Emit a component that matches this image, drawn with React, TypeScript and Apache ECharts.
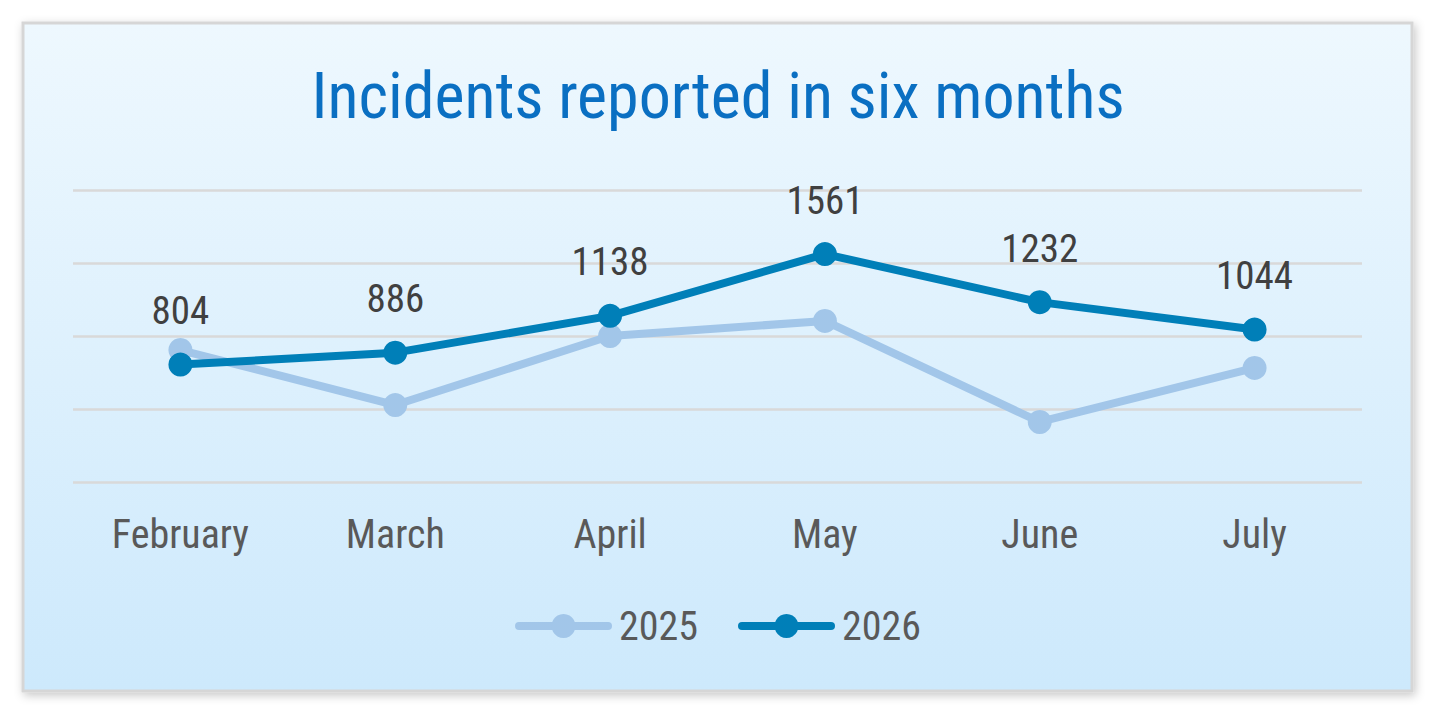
import React, { useRef, useEffect } from 'react';
import * as echarts from 'echarts';

const months = ['February', 'March', 'April', 'May', 'June', 'July'];
const incidents2025 = [904, 527, 1000, 1103, 411, 781];
const incidents2026 = [804, 886, 1138, 1561, 1232, 1044];
const yTicks = [0, 500, 1000, 1500, 2000];

const narrow = "'Roboto Condensed', 'Liberation Sans Narrow', Roboto, sans-serif";

const App = () => {
  const chartRef = useRef(null);

  useEffect(() => {
    const myChart = echarts.init(chartRef.current, null, { renderer: 'svg' });

    const option = {
      animation: false,
      graphic: [
        {
          type: 'rect',
          z: -10,
          silent: true,
          shape: { x: 23, y: 23, width: 1389, height: 668 },
          style: {
            fill: new echarts.graphic.LinearGradient(0, 0, 0, 1, [
              { offset: 0, color: '#eef8fe' },
              { offset: 1, color: '#cde9fc' },
            ]),
            stroke: '#d6d6d6',
            lineWidth: 3,
            shadowBlur: 10,
            shadowColor: 'rgba(0,0,0,0.22)',
            shadowOffsetX: 2,
            shadowOffsetY: 3,
          },
        },
      ],
      title: {
        text: 'Incidents reported in six months',
        left: 'center',
        top: 59,
        textStyle: {
          fontFamily: narrow,
          fontSize: 64,
          fontWeight: 'normal',
          color: '#0a6fc2',
        },
      },
      legend: {
        bottom: 64,
        left: 'center',
        itemWidth: 89,
        itemHeight: 30,
        itemGap: 40,
        lineStyle: { width: 8, cap: 'round' },
        textStyle: { fontFamily: narrow, fontSize: 40, color: '#595959', padding: [0, 0, 0, 6] },
        data: ['2025', '2026'],
      },
      grid: { left: 73, right: 74, top: 190, bottom: 233 },
      xAxis: {
        type: 'category',
        data: months,
        axisLine: { show: false },
        axisTick: { show: false },
        axisLabel: { margin: 32, fontFamily: narrow, fontSize: 40, color: '#595959' },
      },
      yAxis: {
        type: 'value',
        min: yTicks[0],
        max: yTicks[yTicks.length - 1],
        interval: yTicks[1] - yTicks[0],
        axisLabel: { show: false },
        axisLine: { show: false },
        axisTick: { show: false },
        splitLine: { lineStyle: { color: '#d9d9d9', width: 2.5 } },
      },
      series: [
        {
          name: '2025',
          type: 'line',
          data: incidents2025,
          symbol: 'circle',
          symbolSize: 24,
          color: '#a2c6e9',
          lineStyle: { width: 8, color: '#a2c6e9' },
          itemStyle: { color: '#a2c6e9' },
        },
        {
          name: '2026',
          type: 'line',
          data: incidents2026,
          symbol: 'circle',
          symbolSize: 24,
          color: '#007fb8',
          lineStyle: { width: 8, color: '#007fb8' },
          itemStyle: { color: '#007fb8' },
          label: {
            show: true,
            position: 'top',
            distance: 22,
            fontFamily: narrow,
            fontSize: 39,
            color: '#404040',
          },
        },
      ],
    };

    myChart.setOption(option);

    return () => {
      myChart.dispose();
    };
  }, []);

  return (
    <div
      ref={chartRef}
      style={{ position: 'fixed', left: 0, top: 0, width: '1436px', height: '715px', background: '#fff' }}
    />
  );
};

export default App;
